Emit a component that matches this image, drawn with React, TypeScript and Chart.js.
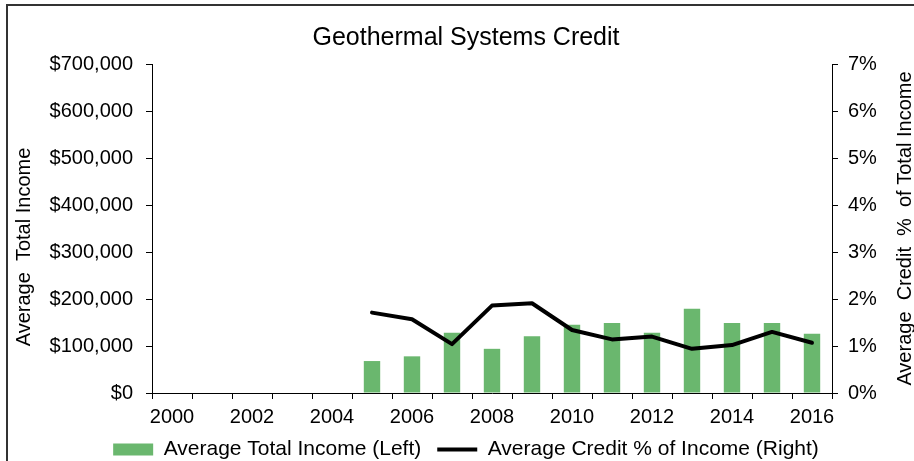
import React, { useEffect, useRef } from "react";
import { Chart, registerables } from "chart.js";

Chart.register(...registerables);

const years = [
  "2000", "2001", "2002", "2003", "2004", "2005", "2006", "2007", "2008",
  "2009", "2010", "2011", "2012", "2013", "2014", "2015", "2016",
];
const avgIncome = [
  null, null, null, null, null, 68000, 78000, 128000, 94000, 121000, 145000,
  149000, 128000, 179000, 149000, 149000, 126000,
];
const creditPct = [
  null, null, null, null, null, 1.71, 1.57, 1.04, 1.86, 1.91, 1.34, 1.14, 1.2,
  0.94, 1.02, 1.3, 1.07,
];
const leftTicksMax = 700000;
const rightTicksMax = 7;

const chartTitle = "Geothermal Systems Credit";
const leftAxisTitle = "Average  Total Income";
const rightAxisTitle = "Average  Credit  %  of Total Income";
const barLabel = "Average Total Income (Left)";
const lineLabel = "Average Credit % of Income (Right)";

const FONT = "'Liberation Sans', Arial, sans-serif";

const axisTitlesPlugin = {
  id: "axisTitles",
  afterDraw(chart: any) {
    const { ctx, chartArea } = chart;
    ctx.save();
    ctx.fillStyle = "#000";
    ctx.font = `20px ${FONT}`;
    ctx.textAlign = "center";
    ctx.textBaseline = "middle";
    // left
    ctx.save();
    ctx.translate(24, 247);
    ctx.rotate(-Math.PI / 2);
    ctx.fillText(leftAxisTitle, 0, 0);
    ctx.restore();
    // right
    ctx.save();
    ctx.translate(905, (chartArea.top + chartArea.bottom) / 2);
    ctx.rotate(-Math.PI / 2);
    ctx.fillText(rightAxisTitle, 0, 0);
    ctx.restore();
    ctx.restore();
  },
};

export default function App() {
  const ref = useRef<HTMLCanvasElement>(null);

  useEffect(() => {
    if (!ref.current) return;
    Chart.defaults.font.family = FONT;
    Chart.defaults.color = "#000";
    const chart = new Chart(ref.current, {
      type: "bar",
      data: {
        labels: years,
        datasets: [
          {
            type: "bar",
            label: barLabel,
            data: avgIncome as any,
            backgroundColor: "#6AB76E",
            borderWidth: 0,
            yAxisID: "y",
            order: 2,
            categoryPercentage: 1,
            barPercentage: 0.41,
            pointStyle: "rect",
          } as any,
          {
            type: "line",
            label: lineLabel,
            data: creditPct as any,
            borderColor: "#000",
            backgroundColor: "#000",
            borderWidth: 4,
            pointRadius: 0,
            pointStyle: "line",
            tension: 0,
            borderJoinStyle: "round",
            borderCapStyle: "round",
            yAxisID: "y1",
            order: 1,
          } as any,
        ],
      },
      options: {
        responsive: false,
        animation: false,
        events: [],
        layout: { padding: 0 },
        plugins: {
          tooltip: { enabled: false },
          title: {
            display: true,
            text: chartTitle,
            color: "#000",
            font: { size: 25, weight: "normal" as any, family: FONT },
            padding: { top: 23, bottom: 11 },
          },
          legend: {
            position: "bottom",
            labels: {
              usePointStyle: true,
              pointStyleWidth: 40,
              boxHeight: 12,
              padding: 16,
              color: "#000",
              font: { size: 21, family: FONT },
              sort: (a: any, b: any) => a.datasetIndex - b.datasetIndex,
            },
          },
        },
        scales: {
          x: {
            type: "category",
            offset: true,
            grid: {
              offset: true,
              drawOnChartArea: false,
              drawTicks: true,
              tickLength: 6,
              color: "#000",
            },
            border: { display: true, color: "#000", width: 1 },
            ticks: {
              autoSkip: false,
              maxRotation: 0,
              padding: 6,
              font: { size: 20 },
              color: "#000",
              callback: (_v: any, i: number) => (i % 2 === 0 ? years[i] : ""),
            },
            afterFit: (s: any) => {
              s.height = 30;
            },
          },
          y: {
            position: "left",
            min: 0,
            max: leftTicksMax,
            grid: {
              drawOnChartArea: false,
              drawTicks: true,
              tickLength: 6,
              color: "#000",
            },
            border: { display: true, color: "#000", width: 1 },
            ticks: {
              stepSize: 100000,
              padding: 13,
              font: { size: 20 },
              color: "#000",
              callback: (v: any) => "$" + Number(v).toLocaleString("en-US"),
            },
            afterFit: (s: any) => {
              s.width = 152;
            },
          },
          y1: {
            position: "right",
            min: 0,
            max: rightTicksMax,
            grid: {
              drawOnChartArea: false,
              drawTicks: true,
              tickLength: 6,
              color: "#000",
            },
            border: { display: true, color: "#000", width: 1 },
            ticks: {
              stepSize: 1,
              padding: 10,
              font: { size: 20 },
              color: "#000",
              callback: (v: any) => `${v}%`,
            },
            afterFit: (s: any) => {
              s.width = 100;
            },
          },
        },
      } as any,
      plugins: [axisTitlesPlugin],
    });
    return () => chart.destroy();
  }, []);

  return (
    <div
      style={{
        position: "fixed",
        left: 0,
        top: 0,
        width: 914,
        height: 461,
        overflow: "hidden",
        background: "#fff",
      }}
    >
      <div
        style={{
          position: "absolute",
          left: 6,
          top: 4,
          width: 1000,
          height: 1000,
          borderLeft: "2px solid #333",
          borderTop: "2px solid #333",
        }}
      />
      <canvas
        ref={ref}
        width={932}
        height={470}
        style={{ position: "absolute", left: 0, top: 0, width: 932, height: 470 }}
      />
    </div>
  );
}
